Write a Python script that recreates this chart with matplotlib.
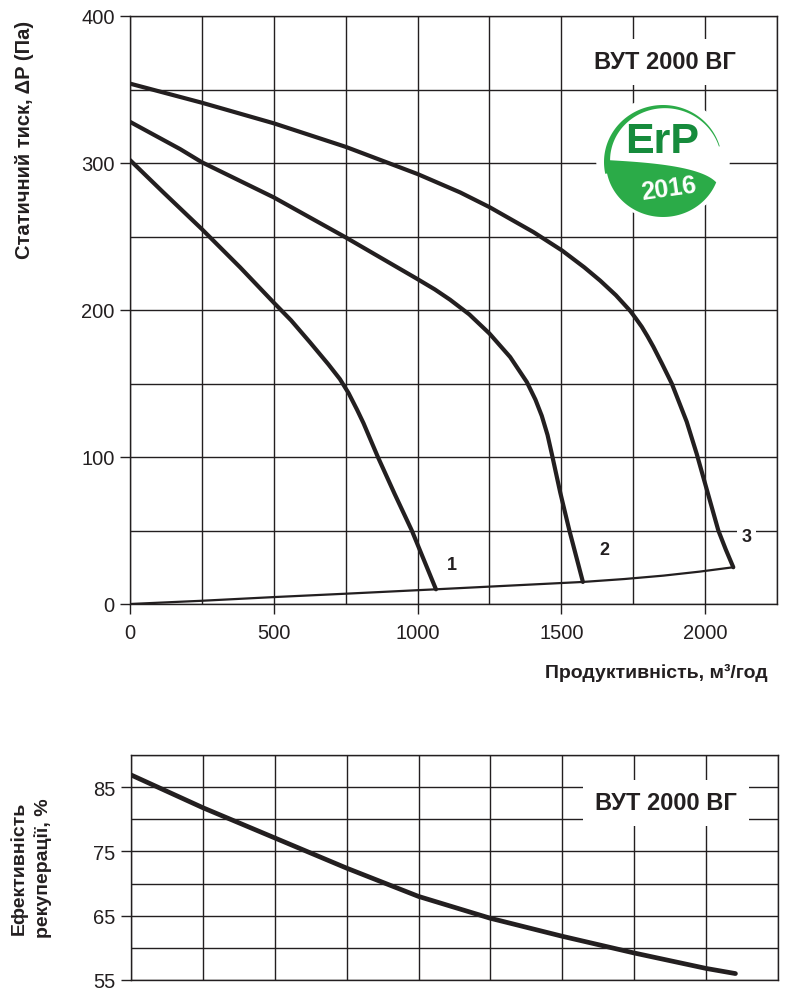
import numpy as np
import matplotlib
matplotlib.use("Agg")
import matplotlib.pyplot as plt
from matplotlib.patches import Ellipse, Polygon

plt.rcParams['font.family'] = ['Liberation Sans', 'DejaVu Sans']

# ---------------- data ----------------
curve1_x = [0, 116, 250, 383, 500, 560, 626, 690, 730, 760, 790, 812, 862, 920, 980, 1064]
curve1_y = [302, 280, 255, 229, 205, 193, 178, 163, 153, 143.5, 132, 123, 100, 75, 50, 10]

curve2_x = [0, 174, 250, 500, 750, 1000, 1060, 1113, 1180, 1250, 1322, 1380, 1410, 1432, 1452, 1467, 1496, 1528, 1575]
curve2_y = [328, 309.5, 300.5, 276.6, 249.4, 221, 214, 207, 197, 184, 168, 151, 139, 128, 115, 102, 76, 50, 15]

curve3_x = [0, 250, 500, 750, 1000, 1148, 1250, 1403, 1503, 1580, 1635, 1690, 1739, 1760, 1780, 1800, 1820, 1850, 1884, 1936, 1971, 2046, 2072, 2098]
curve3_y = [354, 341, 327, 311, 292.5, 280, 270, 253, 240.4, 229, 220, 210, 199.5, 194, 188.5, 182, 175, 163.5, 150, 124, 102, 50, 37, 25]

system_x = [0, 250, 500, 750, 1064, 1575, 1720, 1855, 1980, 2098]
system_y = [0, 2.2, 4.7, 7, 10, 15, 17, 19.3, 22, 25]

curve_labels = ['1', '2', '3']
label_x = [1120, 1648, 2145]
label_y = [27, 37, 46]

eff_x = [0, 250, 500, 750, 1000, 1250, 1500, 1750, 2000, 2102]
eff_y = [86.9, 81.8, 77.1, 72.4, 68.0, 64.6, 61.8, 59.2, 56.8, 56.0]

x_ticks = [0, 500, 1000, 1500, 2000]
p_ticks = [0, 100, 200, 300, 400]
eff_ticks = [55, 65, 75, 85]

model = 'ВУТ 2000 ВГ'
ylabel_top = 'Статичний тиск, ΔP (Па)'
xlabel_top = 'Продуктивність, м³/год'
ylabel_bot = 'Ефективність\nрекуперації, %'

# ---------------- figure ----------------
W, H = 800, 1004
fig = plt.figure(figsize=(W / 100, H / 100), dpi=100)
ink = '#231f20'

def px_ax(l, t, r, b):
    return [l / W, 1 - b / H, (r - l) / W, (b - t) / H]

ax1 = fig.add_axes(px_ax(130, 17, 777, 605))
ax2 = fig.add_axes(px_ax(131, 756, 778, 981))

for ax in (ax1, ax2):
    ax.set_xlim(0, 2250)
    for s in ax.spines.values():
        s.set_color(ink)
        s.set_linewidth(1.0)
        s.set_zorder(1)
    ax.set_xticks(np.arange(0, 2251, 250), minor=True)
    ax.grid(True, which='both', color=ink, linewidth=1.0, zorder=0)
    ax.set_axisbelow(True)
    ax.tick_params(which='minor', length=0)
    ax.tick_params(which='major', direction='out', color=ink, width=1.0,
                   labelsize=14.5, labelcolor=ink)

# top chart
ax1.set_ylim(0, 400)
ax1.set_xticks(x_ticks)
ax1.set_yticks(p_ticks)
ax1.set_yticks(np.arange(0, 401, 50), minor=True)
ax1.tick_params(axis='x', which='major', length=7, pad=7)
ax1.tick_params(axis='y', which='major', length=7, pad=4)

for cx_, cy_ in [(curve1_x, curve1_y), (curve2_x, curve2_y), (curve3_x, curve3_y)]:
    ax1.plot(cx_, cy_, color=ink, lw=3.0, solid_joinstyle='round', solid_capstyle='round', zorder=3)
ax1.plot(system_x, system_y, color=ink, lw=1.6, solid_joinstyle='round', zorder=3)

for t, lx, ly in zip(curve_labels, label_x, label_y):
    ax1.text(lx, ly, t, fontsize=13, fontweight='bold', color=ink, ha='center', va='center',
             zorder=4, bbox=dict(boxstyle='square,pad=0.25', fc='white', ec='none'))

ax1.text(0.827, 1 - (63 - 17) / 588, model, transform=ax1.transAxes, fontsize=17,
         fontweight='bold', color=ink, ha='center', va='center', zorder=5,
         bbox=dict(boxstyle='square,pad=0.5', fc='white', ec='none'))

# bottom chart
ax2.set_ylim(55, 90)
ax2.set_xticks(np.arange(0, 2251, 250))
ax2.tick_params(axis='x', which='major', length=0, labelbottom=False)
ax2.set_yticks(eff_ticks)
ax2.set_yticks(np.arange(55, 91, 5), minor=True)
ax2.tick_params(axis='y', which='major', length=7, pad=4)
ax2.plot(eff_x, eff_y, color=ink, lw=3.4, solid_joinstyle='round', solid_capstyle='round', zorder=3)
ax2.text(0.827, 1 - (804 - 756) / 225, model, transform=ax2.transAxes, fontsize=17,
         fontweight='bold', color=ink, ha='center', va='center', zorder=5,
         bbox=dict(boxstyle='square,pad=0.5', fc='white', ec='none'))

# axis labels (figure pixel positions)
fig.text(25 / W, 1 - 140 / H, ylabel_top, rotation=90, fontsize=14.5, fontweight='bold',
         color=ink, ha='center', va='center')
fig.text(768 / W, 1 - 673 / H, xlabel_top, fontsize=14, fontweight='bold',
         color=ink, ha='right', va='center')
fig.text(31 / W, 1 - 868 / H, ylabel_bot, rotation=90, fontsize=14, fontweight='bold',
         color=ink, ha='center', va='center', multialignment='center', linespacing=1.4)

# ---------------- ErP logo (decoration, pixel coords) ----------------
ov = fig.add_axes([0, 0, 1, 1], zorder=10)
ov.set_xlim(0, W)
ov.set_ylim(H, 0)
ov.axis('off')
ov.patch.set_alpha(0)

green = '#2bab48'
dgreen = '#168b3c'
cx, cy = 663, 163
ov.add_patch(Ellipse((cx, cy - 4), 134, 122, fc='white', ec='none'))

# upper crescent (thick on the left, tapering to the right)
th = np.linspace(np.radians(192), np.radians(16), 90)
outer = np.c_[cx + 59 * np.cos(th), cy - 57 * np.sin(th)]
thick = np.linspace(6.5, 0.8, 90)
inner = np.c_[cx + (59 - thick) * np.cos(th), cy - (57 - thick) * np.sin(th)]
ov.add_patch(Polygon(np.r_[outer, inner[::-1]], closed=True, fc=green, ec='none'))

# lower leaf
th2 = np.linspace(np.radians(180), np.radians(339), 90)
bottom = np.c_[cx + 57 * np.cos(th2), cy + 1 - 54 * np.sin(th2)]
t = np.linspace(0, 1, 60)[:, None]
P0 = np.array(bottom[-1])
P1, P2, P3 = np.array([700, 166]), np.array([640, 163]), np.array([606, 161])
top = (1 - t) ** 3 * P0 + 3 * (1 - t) ** 2 * t * P1 + 3 * (1 - t) * t ** 2 * P2 + t ** 3 * P3
ov.add_patch(Polygon(np.r_[bottom, top], closed=True, fc=green, ec='none'))

ov.text(662, 142, 'ErP', fontsize=31, fontweight='bold', color=dgreen,
        ha='center', va='center')
ov.text(669, 189, '2016', fontsize=18, fontweight='bold', color='white', rotation=8,
        ha='center', va='center')

fig.savefig('out.png', dpi=100)
